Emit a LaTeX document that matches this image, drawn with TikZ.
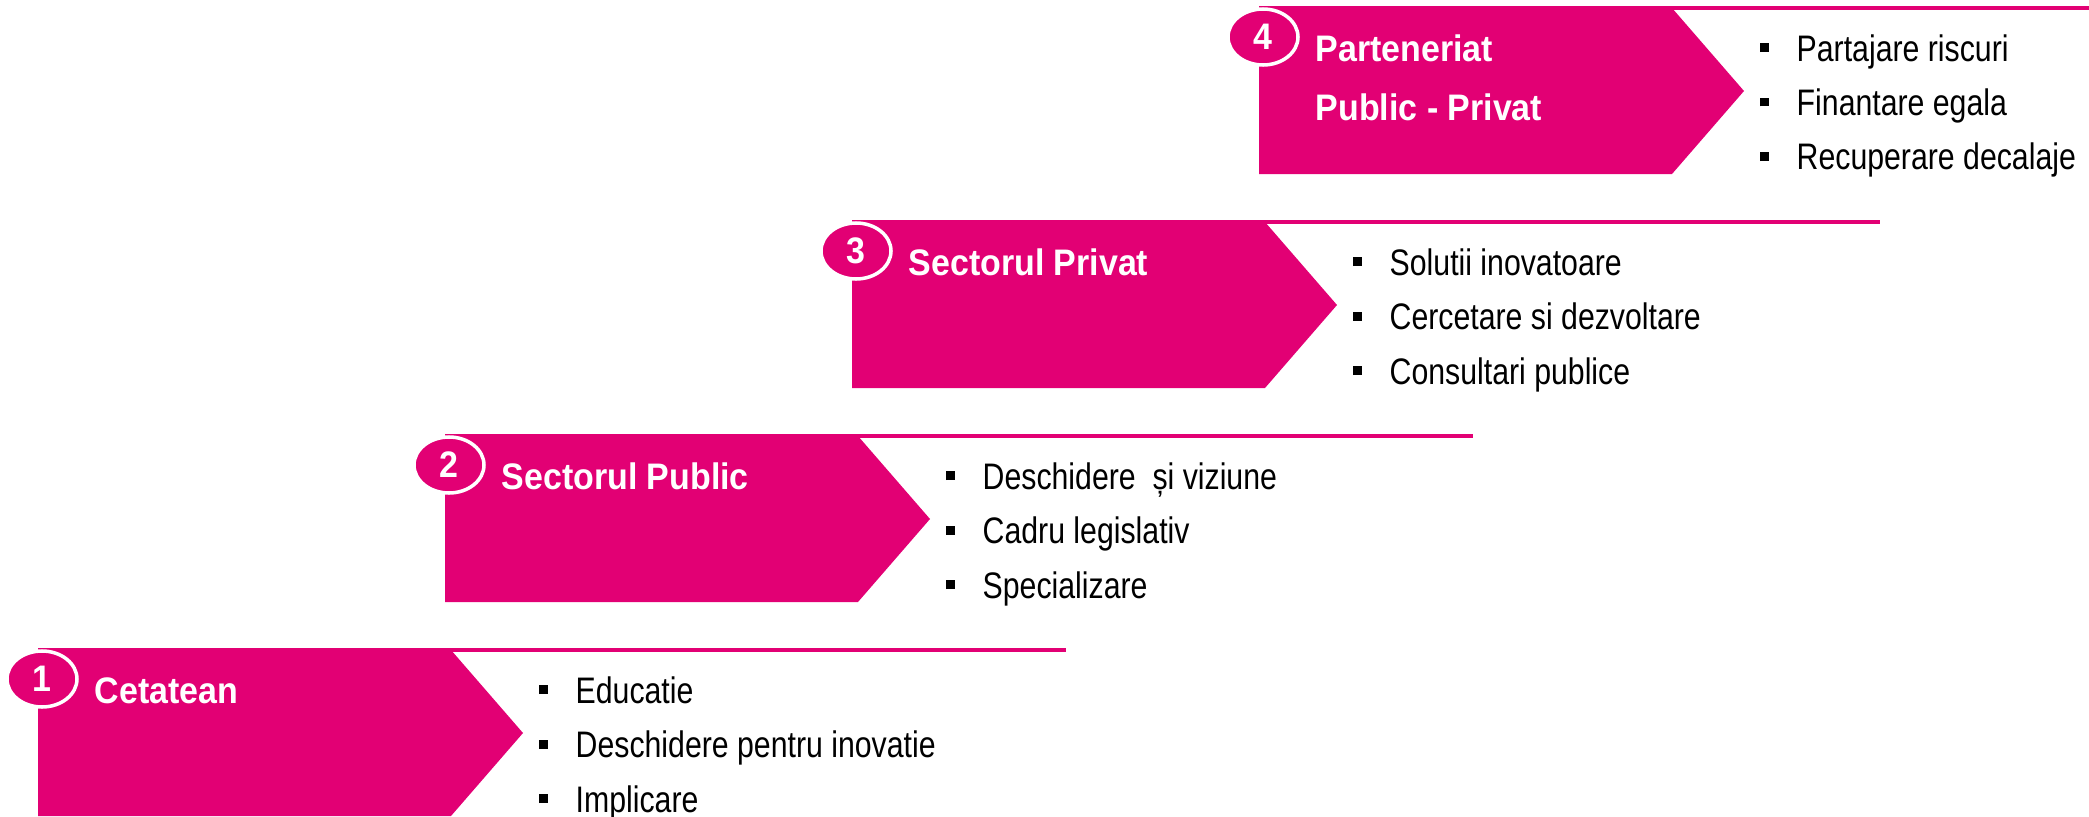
\documentclass[tikz,border=0pt]{standalone}
\usepackage{fontspec}
\setmainfont[FakeStretch=0.82]{Liberation Sans}
\newfontfamily\titlefont[FakeStretch=0.92]{Liberation Sans}
\usepackage{tikz}
\usetikzlibrary{positioning,shapes.geometric}
\usepackage{xcolor}
\definecolor{tmagenta}{HTML}{E20074}

\tikzset{
  stepnum/.style={ellipse, fill=tmagenta, draw=white, line width=1pt, minimum width=0.7cm, minimum height=0.56cm, inner sep=0pt, text=white, font=\titlefont\bfseries\fontsize{10.5}{12}\selectfont},
  steptitle/.style={anchor=base west, inner sep=0pt, text=white, font=\titlefont\bfseries\fontsize{10.5}{12}\selectfont},
  item/.style={anchor=base west, inner sep=0pt, font=\fontsize{10.5}{12}\selectfont},
  topline/.style={tmagenta, line width=0.9pt}
}
\newcommand{\sqbullet}{\rule[0.9mm]{0.9mm}{0.9mm}\hspace{2.8mm}}

\begin{document}
\begin{tikzpicture}
\useasboundingbox (0,0) rectangle (20.89,8.16);

% Step 1 (Cetatean)
\begin{scope}[shift={(0.38,0)}]
\fill[tmagenta] (0,0) -- (0,1.66) -- (4.13,1.66) -- (4.85,0.83) -- (4.13,0) -- cycle;
\draw[topline] (0,1.66) -- (10.28,1.66);
\node[stepnum] (n1) at (0.04,1.37) {1};
\node[steptitle] (t1) at (0.56,1.13) {Cetatean};
\node[item] (b1a) at (5.00,1.13) {\sqbullet Educatie};
\node[item] (b1b) at ([yshift=-0.545cm]b1a.base west) {\sqbullet Deschidere pentru inovatie};
\node[item] (b1c) at ([yshift=-0.545cm]b1b.base west) {\sqbullet Implicare};
\end{scope}

% Step 2 (Sectorul Public)
\begin{scope}[shift={(4.45,2.14)}]
\fill[tmagenta] (0,0) -- (0,1.66) -- (4.13,1.66) -- (4.85,0.83) -- (4.13,0) -- cycle;
\draw[topline] (0,1.66) -- (10.28,1.66);
\node[stepnum] (n2) at (0.04,1.37) {2};
\node[steptitle] (t2) at (0.56,1.13) {Sectorul Public};
\node[item] (b2a) at (5.00,1.13) {\sqbullet Deschidere\ \ și viziune};
\node[item] (b2b) at ([yshift=-0.545cm]b2a.base west) {\sqbullet Cadru legislativ};
\node[item] (b2c) at ([yshift=-0.545cm]b2b.base west) {\sqbullet Specializare};
\end{scope}

% Step 3 (Sectorul Privat)
\begin{scope}[shift={(8.52,4.28)}]
\fill[tmagenta] (0,0) -- (0,1.66) -- (4.13,1.66) -- (4.85,0.83) -- (4.13,0) -- cycle;
\draw[topline] (0,1.66) -- (10.28,1.66);
\node[stepnum] (n3) at (0.04,1.37) {3};
\node[steptitle] (t3) at (0.56,1.13) {Sectorul Privat};
\node[item] (b3a) at (5.00,1.13) {\sqbullet Solutii inovatoare};
\node[item] (b3b) at ([yshift=-0.545cm]b3a.base west) {\sqbullet Cercetare si dezvoltare};
\node[item] (b3c) at ([yshift=-0.545cm]b3b.base west) {\sqbullet Consultari publice};
\end{scope}

% Step 4 (Parteneriat Public - Privat) - line runs to the edge
\begin{scope}[shift={(12.59,6.42)}]
\fill[tmagenta] (0,0) -- (0,1.66) -- (4.13,1.66) -- (4.85,0.83) -- (4.13,0) -- cycle;
\draw[topline] (0,1.66) -- (8.30,1.66);
\node[stepnum] (n4) at (0.04,1.37) {4};
\node[steptitle] (t4) at (0.56,1.13) {Parteneriat};
\node[steptitle] (t4b) at ([yshift=-0.59cm]t4.base west) {Public - Privat};
\node[item] (b4a) at (5.00,1.13) {\sqbullet Partajare riscuri};
\node[item] (b4b) at ([yshift=-0.545cm]b4a.base west) {\sqbullet Finantare egala};
\node[item] (b4c) at ([yshift=-0.545cm]b4b.base west) {\sqbullet Recuperare decalaje};
\end{scope}
\end{tikzpicture}
\end{document}
